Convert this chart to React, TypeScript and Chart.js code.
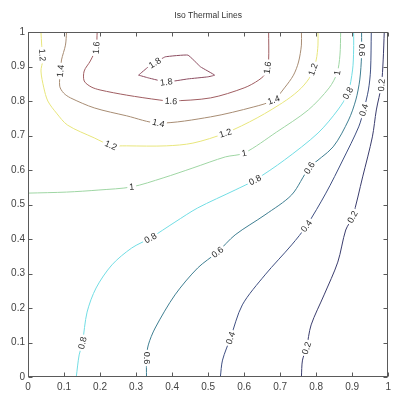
import { useEffect, useRef } from 'react';
import { Chart, registerables } from 'chart.js';

Chart.register(...registerables);

// Contour levels and their colours (jet-like map)
const levels = [0.2, 0.4, 0.6, 0.8, 1, 1.2, 1.4, 1.6, 1.8];
const levelColors = [
  '#3b3d6e',
  '#3f4f82',
  '#3f7f92',
  '#72dde4',
  '#9fd6a4',
  '#e8e67c',
  '#a88d74',
  '#a05e62',
  '#8c4c60',
];

// Iso-lines, [x, y] pairs
const iso02 = [
  [0.759, 0.0], [0.762, 0.049], [0.773, 0.084], [0.786, 0.151], [0.822, 0.238],
  [0.86, 0.333], [0.882, 0.426], [0.901, 0.464], [0.929, 0.58], [0.956, 0.696],
  [0.967, 0.774], [0.981, 0.846], [0.986, 0.919], [0.989, 1.0],
];
const iso04 = [
  [0.534, 0.0], [0.54, 0.049], [0.562, 0.113], [0.595, 0.209], [0.658, 0.296],
  [0.732, 0.383], [0.773, 0.438], [0.827, 0.533], [0.874, 0.629], [0.918, 0.725],
  [0.932, 0.774], [0.945, 0.832], [0.951, 0.89], [0.953, 1.0],
];
const iso06 = [
  [0.329, 0.0], [0.329, 0.055], [0.334, 0.093], [0.353, 0.142], [0.408, 0.238],
  [0.471, 0.316], [0.526, 0.362], [0.575, 0.412], [0.658, 0.47], [0.732, 0.528],
  [0.781, 0.606], [0.847, 0.667], [0.89, 0.745], [0.91, 0.803], [0.921, 0.861],
  [0.926, 0.933], [0.926, 1.0],
];
const iso08 = [
  [0.134, 0.0], [0.142, 0.064], [0.151, 0.099], [0.164, 0.188], [0.189, 0.258],
  [0.233, 0.325], [0.288, 0.374], [0.34, 0.403], [0.408, 0.449], [0.471, 0.49],
  [0.575, 0.542], [0.63, 0.571], [0.712, 0.629], [0.805, 0.707], [0.86, 0.774],
  [0.888, 0.823], [0.901, 0.89], [0.904, 0.948], [0.904, 1.0],
];
const iso10 = [
  [0.0, 0.533], [0.107, 0.536], [0.197, 0.542], [0.288, 0.551], [0.375, 0.577],
  [0.458, 0.606], [0.548, 0.638], [0.6, 0.649], [0.69, 0.71], [0.778, 0.774],
  [0.836, 0.838], [0.858, 0.881], [0.866, 0.933], [0.868, 1.0],
];
const iso12 = [
  [0.036, 1.0], [0.038, 0.962], [0.041, 0.919], [0.036, 0.887], [0.044, 0.838],
  [0.055, 0.8], [0.079, 0.765], [0.11, 0.73], [0.184, 0.693], [0.23, 0.672],
  [0.274, 0.67], [0.384, 0.67], [0.458, 0.678], [0.548, 0.707], [0.636, 0.751],
  [0.718, 0.803], [0.759, 0.838], [0.786, 0.875], [0.8, 0.919], [0.805, 0.962],
  [0.805, 1.0],
];
const iso14 = [
  [0.107, 1.0], [0.104, 0.962], [0.093, 0.919], [0.09, 0.887], [0.088, 0.843],
  [0.099, 0.823], [0.118, 0.809], [0.184, 0.78], [0.274, 0.757], [0.362, 0.736],
  [0.507, 0.754], [0.627, 0.783], [0.682, 0.803], [0.712, 0.838], [0.737, 0.875],
  [0.751, 0.913], [0.759, 0.962], [0.759, 1.0],
];
const iso16 = [
  [0.192, 1.0], [0.189, 0.954], [0.173, 0.916], [0.156, 0.887], [0.156, 0.858],
  [0.175, 0.841], [0.2, 0.832], [0.274, 0.817], [0.364, 0.803], [0.397, 0.8],
  [0.507, 0.809], [0.6, 0.838], [0.641, 0.861], [0.663, 0.884], [0.668, 0.919],
  [0.668, 1.0],
];
const iso18 = [
  [0.307, 0.875], [0.334, 0.899], [0.356, 0.913], [0.381, 0.928], [0.444, 0.933],
  [0.479, 0.899], [0.518, 0.875], [0.499, 0.87], [0.444, 0.864], [0.384, 0.855],
  [0.334, 0.867], [0.307, 0.875],
];

// Where each level carries its inline value label
const spots02 = [[0.773, 0.084], [0.901, 0.464], [0.984, 0.846]];
const spots04 = [[0.562, 0.113], [0.773, 0.438], [0.932, 0.774]];
const spots06 = [[0.329, 0.055], [0.526, 0.362], [0.781, 0.606], [0.926, 0.948]];
const spots08 = [[0.151, 0.099], [0.34, 0.403], [0.63, 0.571], [0.888, 0.823]];
const spots10 = [[0.288, 0.551], [0.6, 0.649], [0.863, 0.881]];
const spots12 = [[0.04, 0.933], [0.23, 0.672], [0.548, 0.707], [0.795, 0.89]];
const spots14 = [[0.09, 0.887], [0.362, 0.736], [0.682, 0.803]];
const spots16 = [[0.189, 0.954], [0.397, 0.8], [0.668, 0.896]];
const spots18 = [[0.356, 0.904], [0.384, 0.855]];

const contours = [iso02, iso04, iso06, iso08, iso10, iso12, iso14, iso16, iso18];
const labelSpots = [spots02, spots04, spots06, spots08, spots10, spots12, spots14, spots16, spots18];

const tickValues = [0, 0.1, 0.2, 0.3, 0.4, 0.5, 0.6, 0.7, 0.8, 0.9, 1];
const titleText = 'Iso Thermal Lines';

const uiFont = '"Liberation Sans", Arial, sans-serif';

const fmt = (v: number) => String(Number(Number(v).toFixed(1)));

const framePlugin = {
  id: 'frame',
  afterDatasetsDraw(chart: any) {
    const { ctx, chartArea: a } = chart;
    const sx = chart.scales.x;
    const sy = chart.scales.y;

    // inline contour labels, rotated along the local direction of the line
    ctx.save();
    ctx.font = `9px ${uiFont}`;
    ctx.textAlign = 'center';
    ctx.textBaseline = 'middle';
    contours.forEach((pts, i) => {
      const pix = pts.map(([vx, vy]) => [sx.getPixelForValue(vx), sy.getPixelForValue(vy)]);
      labelSpots[i].forEach(([lx, ly]) => {
        const tx = sx.getPixelForValue(lx);
        const ty = sy.getPixelForValue(ly);
        let best = { d: Infinity, x: tx, y: ty, ang: 0 };
        for (let k = 0; k < pix.length - 1; k++) {
          const [x1, y1] = pix[k];
          const [x2, y2] = pix[k + 1];
          const dx = x2 - x1;
          const dy = y2 - y1;
          const len2 = dx * dx + dy * dy || 1;
          let t = ((tx - x1) * dx + (ty - y1) * dy) / len2;
          t = Math.max(0, Math.min(1, t));
          const qx = x1 + t * dx;
          const qy = y1 + t * dy;
          const d = (qx - tx) ** 2 + (qy - ty) ** 2;
          if (d < best.d) best = { d, x: qx, y: qy, ang: Math.atan2(dy, dx) };
        }
        let ang = best.ang;
        if (ang > Math.PI / 2) ang -= Math.PI;
        if (ang <= -Math.PI / 2) ang += Math.PI;
        const text = fmt(levels[i]);
        const w = ctx.measureText(text).width;
        ctx.save();
        ctx.translate(best.x, best.y);
        ctx.rotate(ang);
        ctx.fillStyle = '#ffffff';
        ctx.fillRect(-w / 2 - 2, -5, w + 4, 10);
        ctx.fillStyle = '#2a2a2a';
        ctx.fillText(text, 0, 0.5);
        ctx.restore();
      });
    });
    ctx.restore();

    // axes box with inward ticks
    ctx.save();
    ctx.strokeStyle = '#5a5a5a';
    ctx.lineWidth = 1;
    const L = Math.round(a.left) + 0.5;
    const R = Math.round(a.right) - 0.5;
    const T = Math.round(a.top) + 0.5;
    const B = Math.round(a.bottom) - 0.5;
    ctx.strokeRect(L, T, R - L, B - T);
    ctx.beginPath();
    tickValues.forEach((v) => {
      const px = Math.round(sx.getPixelForValue(v)) + 0.5;
      ctx.moveTo(px, B); ctx.lineTo(px, B - 4);
      ctx.moveTo(px, T); ctx.lineTo(px, T + 4);
      const py = Math.round(sy.getPixelForValue(v)) + 0.5;
      ctx.moveTo(L, py); ctx.lineTo(L + 4, py);
      ctx.moveTo(R, py); ctx.lineTo(R - 4, py);
    });
    ctx.stroke();

    // title
    ctx.fillStyle = '#333333';
    ctx.font = `8.5px ${uiFont}`;
    ctx.textAlign = 'center';
    ctx.textBaseline = 'middle';
    ctx.fillText(titleText, (a.left + a.right) / 2, 16);
    ctx.restore();
  },
};

export default function App() {
  const ref = useRef<HTMLCanvasElement | null>(null);

  useEffect(() => {
    if (!ref.current) return;
    const chart = new Chart(ref.current, {
      type: 'scatter',
      data: {
        datasets: contours.map((pts, i) => ({
          label: fmt(levels[i]),
          data: pts.map(([x, y]) => ({ x, y })),
          showLine: true,
          borderColor: levelColors[i],
          backgroundColor: levelColors[i],
          borderWidth: 1,
          pointRadius: 0,
          pointHoverRadius: 0,
          // the small closed loop keeps its sharp tips
          tension: pts === iso18 ? 0.1 : 0.3,
          fill: false,
        })),
      },
      options: {
        responsive: false,
        animation: false,
        events: [],
        layout: { padding: { top: 32, right: 2, left: 0, bottom: 0 } },
        plugins: { legend: { display: false }, tooltip: { enabled: false }, title: { display: false } },
        scales: {
          x: {
            type: 'linear',
            min: 0,
            max: 1,
            afterBuildTicks: (s: any) => { s.ticks = tickValues.map((value) => ({ value })); },
            afterFit: (s: any) => { s.height = 20; },
            grid: { display: false, drawTicks: false },
            border: { display: false },
            ticks: {
              padding: 4,
              color: '#444',
              font: { size: 10, family: uiFont },
              maxRotation: 0,
              autoSkip: false,
              callback: (v: any) => fmt(v),
            },
          },
          y: {
            type: 'linear',
            min: 0,
            max: 1,
            afterBuildTicks: (s: any) => { s.ticks = tickValues.map((value) => ({ value })); },
            afterFit: (s: any) => { s.width = 28; },
            grid: { display: false, drawTicks: false },
            border: { display: false },
            ticks: {
              padding: 3,
              color: '#444',
              font: { size: 10, family: uiFont },
              autoSkip: false,
              callback: (v: any) => fmt(v),
            },
          },
        },
      },
      plugins: [framePlugin],
    });
    return () => chart.destroy();
  }, []);

  return (
    <div style={{ position: 'fixed', left: 0, top: 0, width: 395, height: 397, background: '#fff' }}>
      <canvas ref={ref} width={395} height={397} />
    </div>
  );
}
